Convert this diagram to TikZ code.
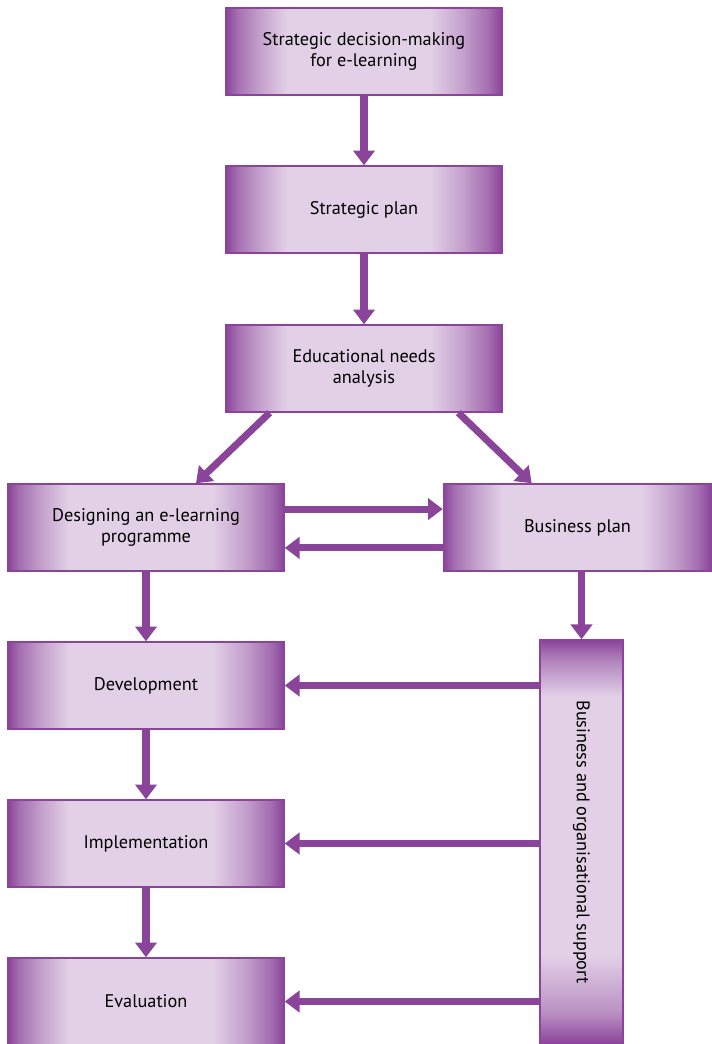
\documentclass[tikz,border=0pt]{standalone}
\usepackage{fontspec}
\setmainfont{PT Sans}
\usepackage{tikz}
\usetikzlibrary{shapes,arrows.meta,calc}

\definecolor{plum}{HTML}{8A4499}
\definecolor{lilac}{HTML}{E2D0E7}
\pgfdeclarehorizontalshading{stepshade}{100bp}{color(0bp)=(plum); color(25bp)=(plum);
  color(27bp)=(plum!70!lilac); color(31bp)=(plum!35!lilac); color(36bp)=(lilac);
  color(62bp)=(lilac); color(68bp)=(plum!35!lilac); color(72.5bp)=(plum!70!lilac);
  color(75bp)=(plum); color(100bp)=(plum)}
\pgfdeclareverticalshading{supportshade}{100bp}{color(0bp)=(plum); color(25bp)=(plum);
  color(29bp)=(plum!45!lilac); color(36bp)=(lilac); color(68bp)=(lilac);
  color(72.5bp)=(plum!55!lilac); color(75bp)=(plum); color(100bp)=(plum)}

\begin{document}
\begin{tikzpicture}[x=0.025cm, y=-0.025cm,
        every node/.append style={font=\fontsize{13}{15.5}\selectfont, text=black}]
      \tikzstyle{stepbox} = [rectangle, draw=plum, line width=1pt, shading=stepshade,
        minimum width=6.9cm, minimum height=2.175cm, align=center, inner sep=2pt]
      \tikzstyle{flow} = [draw=plum, line width=5pt, -{Triangle[width=15pt,length=10.5pt]}]
      \useasboundingbox (0,0) rectangle (711,1044);
      \node (decision) [stepbox] at (364,51.5) {Strategic decision-making\\for e-learning};
      \node (plan) [stepbox] at (364,209.5) {Strategic plan};
      \node (needs) [stepbox] at (364,368.5) {Educational needs\\analysis};
      \node (design) [stepbox] at (146,527.5) {Designing an e-learning\\programme};
      \node (business) [stepbox, minimum width=6.7cm] at (577.5,527.5) {Business plan};
      \node (develop) [stepbox] at (146,685.5) {Development};
      \node (implement) [stepbox] at (146,843.5) {Implementation};
      \node (evaluate) [stepbox] at (146,1001.5) {Evaluation};
      \node (support) [rectangle, draw=plum, line width=1pt, shading=supportshade,
        minimum width=2.075cm, minimum height=10.1cm] at (581.5,842) {};
      \node [rotate=-90] at (support.center) {Business and organisational support};
      % connectors
      \draw[flow] (decision.south) -- (plan.north);
      \draw[flow] (plan.south) -- (needs.north);
      \draw[flow] ($(needs.south west)!0.16!(needs.south east)$) -- ($(design.north west)!0.68!(design.north east)$);
      \draw[flow] ($(needs.south west)!0.84!(needs.south east)$) -- ($(business.north west)!0.33!(business.north east)$);
      \draw[flow] ([yshift=0.46cm]design.east) -- ([yshift=0.46cm]business.west);
      \draw[flow] ([yshift=-0.51cm]business.west) -- ([yshift=-0.51cm]design.east);
      \draw[flow] (design.south) -- (develop.north);
      \draw[flow] (develop.south) -- (implement.north);
      \draw[flow] (implement.south) -- (evaluate.north);
      \draw[flow] (support.north |- business.south) -- (support.north);
      \draw[flow] (support.west |- develop.east) -- (develop.east);
      \draw[flow] (support.west |- implement.east) -- (implement.east);
      \draw[flow] (support.west |- evaluate.east) -- (evaluate.east);
    \end{tikzpicture}
\end{document}
